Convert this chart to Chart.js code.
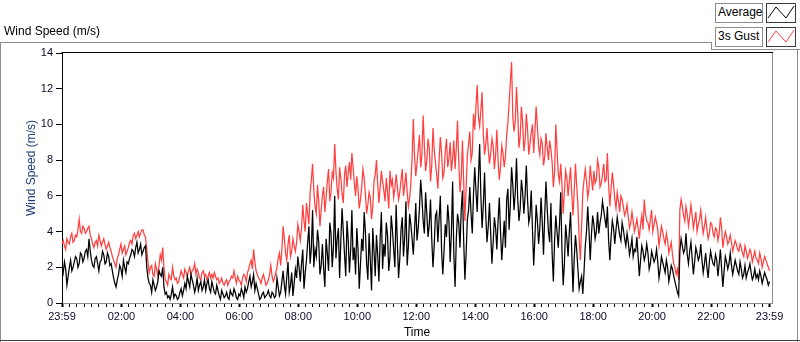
<!DOCTYPE html>
<html>
<head>
<meta charset="utf-8">
<script src="https://cdn.jsdelivr.net/npm/chart.js@4/dist/chart.umd.min.js"></script>
<style>
html,body{margin:0;padding:0;background:#fff;}
#wrap{position:relative;width:800px;height:342px;overflow:hidden;font-family:'Liberation Sans',Arial,sans-serif;background:#fff;}
#c{position:absolute;left:0;top:0;}
.ln{position:absolute;background:#8c8c8c;}
.title{position:absolute;left:4px;top:24px;font-size:12px;color:#000;white-space:nowrap;}
.lbox{position:absolute;box-sizing:border-box;border:1px solid #8c8c8c;background:#fff;font-size:12px;color:#000;line-height:17px;padding-left:2px;white-space:nowrap;}
.ibox{position:absolute;box-sizing:border-box;border:1px solid #3a3a3a;background:#fff;}
.ibox svg{position:absolute;left:0;top:0;}
</style>
</head>
<body>
<div id="wrap">
  <canvas id="c" width="800" height="342"></canvas>
  <div class="title">Wind Speed (m/s)</div>
  <div class="ln" style="left:0;top:42px;width:712px;height:1px;"></div>
  <div class="ln" style="left:711px;top:42px;width:1px;height:8px;"></div>
  <div class="ln" style="left:711px;top:49px;width:89px;height:1px;"></div>
  <div class="ln" style="left:0;top:42px;width:1px;height:300px;"></div>
  <div class="ln" style="left:797px;top:49px;width:1px;height:293px;"></div>
  <div class="ln" style="left:0;top:340px;width:800px;height:1px;background:#404040;"></div>
  <div class="lbox" style="left:715px;top:3px;width:48px;height:20px;">Average</div>
  <div class="ibox" style="left:766px;top:3px;width:30px;height:20px;">
    <svg width="28" height="18"><polyline points="1,14 9,3 19,14 27,2" fill="none" stroke="#000" stroke-width="1"/></svg>
  </div>
  <div class="lbox" style="left:715px;top:27px;width:48px;height:20px;">3s Gust</div>
  <div class="ibox" style="left:766px;top:27px;width:30px;height:20px;">
    <svg width="28" height="18"><polyline points="1,14 9,3 19,14 27,2" fill="none" stroke="#ff4040" stroke-width="1"/></svg>
  </div>
</div>
<script>
// ---- data (minutes after 23:59, one sample every 2.5 minutes) ----
const stepMinutes = 2.5;
const avgSpeed = [
2.1,1.7,2.3,1.9,1.0,1.5,2.0,2.4,1.8,2.0,2.3,2.6,2.5,2.0,2.2,2.8,2.7,2.3,2.5,2.9,
3.0,2.6,3.6,2.9,2.4,2.1,2.0,2.5,2.6,2.2,1.8,2.3,2.4,2.9,2.7,2.2,2.3,2.8,2.6,2.1,
2.2,1.8,1.4,1.1,0.9,1.3,1.6,2.1,1.9,1.5,2.4,2.0,1.7,2.3,2.2,2.5,2.7,3.0,2.9,2.6,
3.1,3.4,2.8,3.0,3.3,2.7,2.9,3.1,3.2,2.0,1.4,
1.1,1.0,0.6,1.3,1.0,0.7,0.9,1.2,1.8,1.6,1.5,2.0,0.9,0.5,0.6,0.3,
0.4,0.2,0.5,0.9,0.3,0.5,0.4,0.2,0.3,0.6,0.8,0.4,0.7,1.1,0.8,1.5,
1.2,0.9,1.6,1.3,1.0,0.6,0.9,1.4,0.7,1.0,1.2,0.7,0.9,1.3,0.7,1.1,
1.3,0.8,0.6,1.2,0.9,0.6,0.5,1.0,0.7,0.4,0.2,0.7,0.5,0.3,0.4,0.6,
0.3,0.2,0.7,0.5,0.4,0.8,0.6,0.3,
0.2,0.5,0.4,0.8,0.6,0.3,0.9,0.6,0.8,1.2,1.5,0.9,1.2,1.6,0.7,1.1,
0.8,0.5,0.2,0.3,0.5,0.6,0.3,0.4,0.5,0.7,0.4,0.3,0.6,0.5,0.3,0.4,
1.4,0.9,0.4,0.6,1.2,1.8,1.0,0.5,1.5,2.3,0.6,1.0,1.7,0.4,1.1,1.9,
1.4,2.6,2.0,1.2,2.2,3.0,0.8,1.7,
2.4,3.4,4.3,2.2,3.1,5.2,2.0,3.0,2.6,4.1,3.4,1.6,2.1,3.3,1.9,0.9,
3.6,2.8,1.8,4.5,3.9,2.0,3.2,6.0,2.5,3.6,4.2,1.4,3.5,5.3,4.0,2.7,
1.5,4.6,3.5,1.7,3.0,5.2,2.4,3.1,1.6,4.2,3.0,0.8,2.2,3.6,2.9,5.1,
4.0,2.2,1.3,3.9,2.4,0.7,4.2,2.9,1.5,3.8,2.7,1.2,3.6,5.1,1.9,3.3,
2.6,4.5,3.8,1.8,2.6,4.9,4.1,3.0,2.0,5.5,3.4,1.4,2.5,4.1,4.8,2.6,
3.7,5.7,2.1,3.2,5.0,4.4,3.6,2.7,
4.1,5.6,3.5,4.2,5.3,6.9,5.9,4.6,3.9,6.2,5.0,3.7,4.4,5.8,3.6,2.0,3.2,4.9,5.1,3.4,
4.7,6.0,3.0,1.6,2.9,4.4,3.7,5.5,4.6,2.3,3.9,6.8,2.7,0.9,3.6,5.0,4.5,3.1,5.2,6.3,
3.5,1.3,2.8,4.7,5.2,6.5,5.0,3.9,6.1,7.6,6.3,5.1,7.0,8.9,6.0,4.2,5.5,7.3,4.9,3.4,
4.3,5.6,3.9,2.2,3.4,4.8,4.2,3.0,4.6,5.9,4.0,2.4,3.5,4.6,3.1,5.8,6.4,4.1,5.5,7.6,
6.6,5.2,6.2,8.1,5.8,4.6,5.3,6.9,6.2,5.0,6.0,7.7,5.8,4.5,4.9,6.3,4.1,2.1,3.7,5.5,
4.6,3.3,4.2,5.9,4.5,2.7,5.0,6.8,5.3,4.0,3.4,5.6,2.8,1.2,3.5,4.9,4.0,3.1,4.4,6.2,
3.0,1.0,2.2,4.4,3.6,2.6,4.0,5.1,2.8,0.6,2.5,3.8,3.0,1.9,0.8,1.2,1.5,0.5,1.8,3.2,
4.0,5.4,4.1,2.4,
3.8,4.9,4.4,3.6,4.0,5.1,3.9,4.5,4.9,5.7,5.2,4.7,4.2,5.4,3.5,2.4,3.7,4.6,4.2,3.3,
4.1,4.8,4.3,3.8,3.5,4.5,4.1,3.6,3.2,3.9,3.4,2.7,3.1,3.6,2.6,3.0,2.9,3.7,2.6,1.5,
2.4,3.2,2.9,2.4,2.7,3.3,2.8,1.9,2.2,2.9,2.6,2.3,2.5,3.0,2.3,1.4,1.9,2.6,2.3,2.0,
1.7,2.4,2.0,1.2,1.6,2.1,1.9,1.5,1.2,0.9,0.6,0.4,2.9,3.6,3.2,2.8,3.0,3.9,2.7,2.2,
2.9,3.4,2.5,1.6,2.3,3.1,2.8,2.4,2.6,3.3,2.4,1.7,2.2,2.8,2.0,1.4,2.3,2.9,2.5,2.2,
2.1,2.7,2.4,1.5,2.2,3.0,1.9,0.9,1.8,2.6,2.3,1.9,2.2,2.8,2.1,1.6,2.0,2.4,2.1,1.8,
1.6,2.3,1.9,1.4,1.6,2.1,1.4,1.7,1.9,2.2,1.7,1.3,1.5,1.9,1.4,1.6,1.3,1.8,1.5,1.1,
1.4,1.7,1.5,1.3,1.0,1.2
];
const gustSpeed = [
3.3,3.5,3.2,3.0,3.6,3.4,3.3,3.7,3.9,3.4,3.5,3.8,3.7,4.1,4.7,4.0,3.9,4.3,4.2,3.9,
4.0,4.2,4.3,3.8,3.6,3.3,3.1,3.4,3.5,3.2,3.8,3.5,3.2,3.4,3.6,3.3,3.0,3.2,3.4,3.1,
2.9,2.6,2.4,2.2,2.0,2.5,2.7,3.0,3.3,2.8,3.0,3.2,2.7,2.9,3.1,3.4,3.5,3.3,3.8,3.9,
3.6,3.8,4.0,3.7,3.9,4.1,4.1,3.8,3.7,3.0,2.3,
1.7,2.0,2.1,1.6,1.5,2.2,1.9,1.5,2.1,2.7,2.4,3.1,2.0,1.3,1.2,1.0,1.6,1.4,1.3,2.0,
1.5,1.3,1.4,1.1,1.2,1.5,1.8,1.6,1.4,1.9,1.7,1.5,1.8,2.0,1.6,1.8,1.9,2.2,1.6,1.9,
1.7,1.4,1.3,1.7,1.8,1.5,1.6,1.3,1.5,1.7,1.4,1.6,1.4,1.7,1.5,1.3,1.4,1.1,1.2,1.4,
1.1,1.0,1.2,1.3,1.0,1.2,1.3,1.5,1.4,1.8,1.4,1.1,
1.5,1.3,1.2,1.0,1.4,1.6,1.5,1.2,1.7,1.9,2.2,2.4,1.9,3.0,2.3,1.8,1.6,1.4,1.3,1.1,
1.4,1.6,1.3,1.0,1.1,1.3,1.6,2.1,1.5,1.2,1.4,1.7,2.0,2.5,2.8,2.1,3.0,4.3,3.6,2.8,
2.4,3.3,3.8,2.6,2.9,3.6,3.2,2.9,3.4,4.4,4.0,3.5,4.2,5.5,4.6,4.0,
5.6,5.0,4.4,6.2,6.9,7.8,6.3,5.4,5.0,6.6,5.7,4.3,5.2,6.0,6.5,5.1,5.9,6.8,7.5,5.7,
6.2,7.3,7.0,8.9,7.4,6.4,5.8,7.6,7.0,6.1,5.6,7.2,7.7,6.5,7.3,7.9,6.9,8.4,7.6,6.7,
6.0,7.1,6.4,5.3,5.8,6.5,7.5,7.0,6.1,5.0,5.5,6.2,5.9,4.7,5.4,6.8,7.2,8.0,6.7,5.6,
6.5,7.4,6.8,6.3,5.7,7.0,6.2,5.3,7.4,6.6,6.9,5.9,6.4,7.2,6.5,5.8,6.2,6.9,7.5,6.0,
6.6,7.3,6.2,5.4,5.9,6.7,8.1,10.3,
8.2,7.1,7.8,8.6,9.4,7.6,8.3,10.5,8.8,7.4,8.0,9.2,8.7,6.8,7.7,9.8,8.6,7.9,7.2,6.4,
8.0,9.3,8.4,7.0,7.3,8.5,9.2,7.6,8.1,9.0,7.4,8.1,9.1,7.5,8.7,10.2,7.9,6.2,7.0,9.1,
6.8,4.6,6.5,8.3,8.9,9.6,8.0,8.4,10.6,9.7,11.0,12.2,10.4,9.9,10.8,11.8,9.4,8.3,8.9,9.8,
8.6,7.8,8.4,9.2,8.8,7.5,8.3,9.7,8.0,6.9,7.6,8.8,8.4,7.6,8.2,9.4,10.1,11.2,12.4,13.5,
10.4,9.6,10.2,12.1,10.6,8.7,9.3,11.0,10.1,8.5,9.1,10.6,9.7,8.3,8.9,9.5,10.0,8.4,9.6,11.0,
9.9,8.8,8.3,9.2,8.9,7.7,8.2,9.5,8.7,8.0,9.1,8.6,7.9,6.5,7.3,10.0,8.6,7.2,6.8,7.8,
6.6,5.0,6.2,7.4,7.0,6.0,6.8,7.6,6.1,4.9,6.3,7.8,6.6,5.5,3.6,2.4,4.3,6.2,6.9,7.5,
6.8,5.9,6.4,7.7,
7.0,6.3,7.4,6.7,6.9,8.0,7.6,6.5,6.7,7.2,7.8,6.8,6.9,8.4,6.6,5.4,6.4,7.3,6.7,5.8,
5.3,6.2,5.7,5.1,6.0,5.8,5.4,4.9,5.1,5.5,4.8,4.2,4.5,5.1,4.6,4.0,4.3,4.7,4.2,3.6,
4.4,4.9,4.1,5.8,5.0,4.6,4.5,4.1,4.7,5.2,4.0,4.4,4.8,4.5,4.1,3.2,3.7,4.3,4.0,3.6,
3.3,3.9,3.5,2.8,3.1,3.4,2.7,2.2,2.0,1.6,1.9,1.3,5.2,5.8,5.4,4.9,4.6,5.4,5.0,4.3,
4.8,5.5,4.9,4.2,4.6,5.1,4.0,4.4,4.7,5.2,4.5,3.9,4.3,4.8,4.1,3.6,3.9,4.5,4.4,3.9,
3.7,4.2,4.1,3.5,3.9,4.8,4.2,3.1,3.6,4.0,3.7,3.3,3.5,3.8,3.4,2.9,3.2,3.5,3.3,3.0,
2.9,3.3,3.1,2.8,2.6,3.2,2.9,2.5,2.7,3.0,2.8,2.3,2.6,2.9,2.5,2.4,2.2,2.8,2.5,2.0,
2.3,2.6,2.4,2.2,2.0,1.8
];
const seriesNames = ['Average', '3s Gust'];
const tickMinutes = [0,121,241,361,481,601,721,841,961,1081,1201,1321,1440];
const tickLabels = ['23:59','02:00','04:00','06:00','08:00','10:00','12:00','14:00','16:00','18:00','20:00','22:00','23:59'];
const minorTickStep = 15;
const yTickValues = [0,2,4,6,8,10,12,14];

// ---- build ----
const toPoints = arr => arr.map((v, i) => ({x: i * stepMinutes, y: v}));
const xTickValues = [];
for (let m = 0; m <= 1440; m += minorTickStep) {
  if (!tickMinutes.some(t => Math.abs(t - m) < 4)) xTickValues.push(m);
}
tickMinutes.forEach(t => xTickValues.push(t));
xTickValues.sort((a, b) => a - b);
const labelFor = v => { const k = tickMinutes.indexOf(v); return k >= 0 ? tickLabels[k] : ''; };
const FONT = "'Liberation Sans', Arial, sans-serif";

const framePlugin = {
  id: 'frame',
  afterDraw(chart) {
    const {ctx, chartArea: a} = chart;
    ctx.save();
    ctx.lineWidth = 1;
    ctx.strokeStyle = '#000';
    ctx.beginPath();
    ctx.moveTo(a.left - 0.5, a.top - 0.5);
    ctx.lineTo(a.right + 1, a.top - 0.5);
    ctx.stroke();
    ctx.strokeStyle = '#8c8c8c';
    ctx.beginPath();
    ctx.moveTo(a.right + 0.5, a.top);
    ctx.lineTo(a.right + 0.5, a.bottom + 1);
    ctx.stroke();
    ctx.translate(31.5, 168);
    ctx.rotate(-Math.PI / 2);
    ctx.fillStyle = '#1e3d78';
    ctx.font = '12px ' + FONT;
    ctx.textAlign = 'center';
    ctx.textBaseline = 'middle';
    ctx.fillText('Wind Speed (m/s)', 0, 0);
    ctx.restore();
  }
};

new Chart(document.getElementById('c'), {
  type: 'line',
  data: {
    datasets: [
      {label: seriesNames[0], data: toPoints(avgSpeed), borderColor: '#000000', borderWidth: 1.25, pointRadius: 0, tension: 0, fill: false},
      {label: seriesNames[1], data: toPoints(gustSpeed), borderColor: '#ff4040', borderWidth: 1.25, pointRadius: 0, tension: 0, fill: false}
    ]
  },
  options: {
    responsive: false,
    animation: false,
    events: [],
    layout: {padding: {left: 0, right: 28, top: 53, bottom: 0}},
    plugins: {legend: {display: false}, tooltip: {enabled: false}, title: {display: false}},
    scales: {
      x: {
        type: 'linear', min: 0, max: 1445,
        afterBuildTicks: s => { s.ticks = xTickValues.map(v => ({value: v})); },
        afterFit: s => { s.height = 39; },
        ticks: {autoSkip: false, maxRotation: 0, minRotation: 0, padding: 3, color: '#0a0a28',
                font: {family: FONT, size: 11}, callback: v => labelFor(v)},
        grid: {display: true, drawOnChartArea: false, drawTicks: true, tickLength: 4,
               tickColor: '#000', tickWidth: c => (tickMinutes.includes(c.tick && c.tick.value) ? 2 : 1)},
        border: {display: true, color: '#8c8c8c', width: 1},
        title: {display: true, text: 'Time', color: '#000', font: {family: FONT, size: 12}, padding: {top: 0, bottom: 2}}
      },
      y: {
        type: 'linear', min: 0, max: 14,
        afterBuildTicks: s => { s.ticks = yTickValues.map(v => ({value: v})); },
        afterFit: s => { s.width = 62; },
        ticks: {padding: 3, color: '#0a0a28', font: {family: FONT, size: 11}},
        grid: {display: true, drawOnChartArea: false, drawTicks: true, tickLength: 6, tickColor: '#000'},
        border: {display: true, color: '#000', width: 1}
      }
    }
  },
  plugins: [framePlugin]
});
</script>
</body>
</html>
